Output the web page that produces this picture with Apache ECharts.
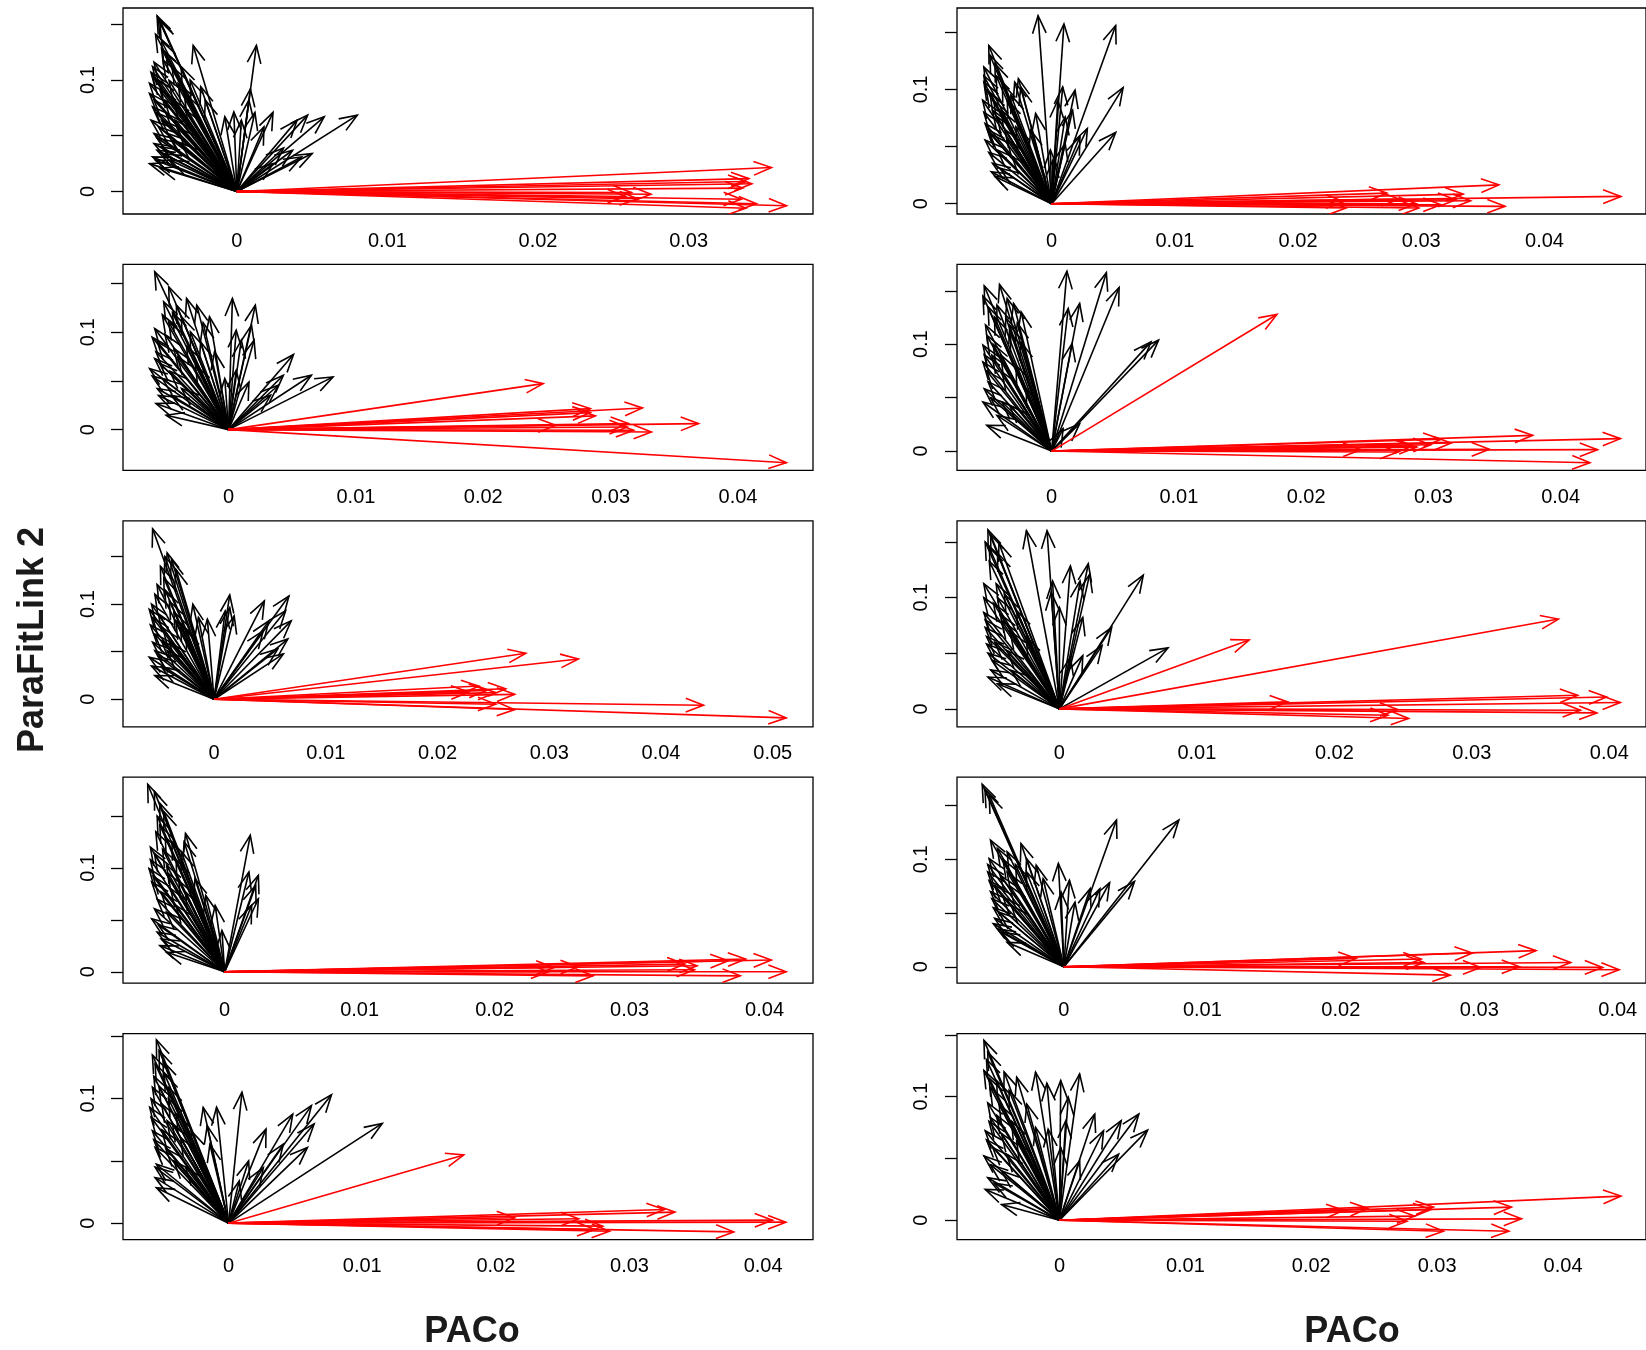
<!DOCTYPE html>
<html>
<head>
<meta charset="utf-8">
<script src="https://cdn.jsdelivr.net/npm/echarts@6/dist/echarts.min.js"></script>
<style>
  html, body { margin: 0; padding: 0; background: #fff; }
  #chart { width: 1646px; height: 1350px; }
</style>
</head>
<body>
<div id="chart"></div>
<script>
// ParaFitLink 2 vs PACo contributions: one arrow per host-parasite link,
// drawn from the origin to (PACo, ParaFitLink 2). Red = flagged links.

// ---------- tick labels ----------
const xTicks3 = [0, 0.01, 0.02, 0.03];
const xTicks4 = [0, 0.01, 0.02, 0.03, 0.04];
const xTicks5 = [0, 0.01, 0.02, 0.03, 0.04, 0.05];
const yTicks = [0, 0.05, 0.1, 0.15];
const yLabels = [0, 0.1];

// ---------- left column ----------
const blackL1 = [
  [-0.0053,0.1577],[-0.0051,0.153],[-0.0050,0.128],[-0.0055,0.116],[-0.0057,0.107],[-0.0058,0.097],
  [-0.0058,0.088],[-0.0056,0.076],[-0.0057,0.064],[-0.0055,0.052],[-0.0055,0.043],[-0.0058,0.025],
  [-0.0056,0.031],[-0.0051,0.021],[-0.0047,0.124],[-0.0043,0.112],[-0.0045,0.0997],[-0.0048,0.082],
  [-0.0047,0.070],[-0.0040,0.058],[-0.0043,0.046],[-0.0037,0.043],[-0.0050,0.040],[-0.0029,0.131],
  [-0.0024,0.094],[-0.0021,0.082],[-0.0034,0.073],[-0.0008,0.067],[-0.0002,0.0714],[0.0003,0.064],
  [0.0013,0.131],[0.0009,0.092],[0.0008,0.082],[0.0012,0.071],[0.0024,0.071],[0.0018,0.058],
  [0.0047,0.0685],[0.0058,0.067],[0.0040,0.064],[0.0080,0.0685],[0.0031,0.039],[0.0037,0.037],
  [0.0050,0.034],[0.0043,0.031],[0.0024,0.025],[-0.0054,0.141],[-0.0050,0.135],[-0.0056,0.103],
  [-0.0051,0.091],[-0.0054,0.071],[-0.0052,0.058],[-0.0049,0.034],[-0.0042,0.082],[-0.0039,0.097],
  [-0.0037,0.112],[-0.0053,0.048],[-0.0056,0.112],[-0.0052,0.100],[-0.0055,0.082],[-0.0050,0.064],
  [-0.0053,0.037],[-0.0046,0.052],[-0.0041,0.064],[-0.0035,0.088],[-0.0031,0.100],[-0.0049,0.118],
  [-0.0054,0.028],[-0.0044,0.028],[-0.0052,0.155]
];
const redL1 = [
  [0.0355,0.0215],[0.0340,0.0115],[0.0342,0.0070],[0.0338,0.0090],[0.0336,0.0030],[0.0262,-0.0010],
  [0.0275,-0.0025],[0.0258,-0.0045],[0.0266,-0.0065],[0.0335,-0.0070],[0.0345,-0.0110],[0.0365,-0.0128],
  [0.0338,-0.0150]
];

const blackL2 = [
  [-0.0058,0.1623],[-0.0047,0.1468],[-0.0051,0.1314],[-0.0033,0.1348],[-0.0025,0.128],[-0.0015,0.116],
  [0.0003,0.1348],[0.0021,0.128],[0.0018,0.1074],[0.0020,0.0919],[0.0006,0.1022],[0.0010,0.0919],
  [0.0051,0.0772],[0.0065,0.0559],[0.0082,0.0542],[0.0043,0.0559],[0.0039,0.0456],[0.0033,0.0353],
  [-0.0058,0.1039],[-0.0056,0.0902],[-0.0062,0.0628],[-0.0058,0.0731],[-0.0056,0.0422],[-0.0057,0.0268],
  [-0.0049,0.0148],[-0.0043,0.0834],[-0.0037,0.116],[-0.0030,0.1005],[-0.0047,0.1108],[-0.0011,0.080],
  [-0.0003,0.0525],[0.0006,0.061],[0.0016,0.049],[-0.0026,0.0662],[-0.0052,0.0525],[-0.0045,0.0353],
  [-0.0037,0.0422],[-0.0022,0.0902],[-0.0041,0.128],[-0.0060,0.095],[-0.0057,0.080],[-0.0054,0.068],
  [-0.0060,0.055],[-0.0050,0.098],[-0.0044,0.120],[-0.0040,0.075],[-0.0033,0.086],[-0.0055,0.035],
  [-0.0052,0.118],[-0.0046,0.060],[-0.0020,0.110]
];
const redL2 = [
  [0.0247,0.0473],[0.0284,0.0216],[0.0325,0.0223],[0.0288,0.0141],[0.0284,0.0175],[0.0369,0.0062],
  [0.0257,0.0045],[0.0313,0.0027],[0.0318,-0.0007],[0.0332,-0.0024],[0.0438,-0.034],[0.0314,0.0062]
];

const blackL3 = [
  [-0.0055,0.1791],[-0.0042,0.1537],[-0.0038,0.1468],[-0.0034,0.1363],[-0.0048,0.1398],[-0.0053,0.1103],
  [-0.0058,0.0946],[-0.0055,0.0859],[-0.0053,0.0685],[-0.0053,0.0511],[-0.0053,0.025],[-0.0047,0.0337],
  [-0.0045,0.1277],[-0.0040,0.1033],[-0.0019,0.0998],[-0.0014,0.0859],[-0.0006,0.0842],[0.0014,0.1096],
  [0.0014,0.0963],[0.0018,0.0877],[0.0010,0.0929],[0.0045,0.1033],[0.0067,0.1085],[0.0064,0.0929],
  [0.0069,0.0824],[0.0066,0.0633],[0.0062,0.0477],[0.0057,0.0529],[0.0049,0.0824],[0.0044,0.072],
  [-0.0042,0.0511],[-0.0034,0.0824],[-0.0051,0.1207],[-0.0025,0.072],[-0.0047,0.0616],[-0.0058,0.0442],
  [-0.0056,0.100],[-0.0057,0.078],[-0.0055,0.060],[-0.0056,0.035],[-0.0050,0.090],[-0.0046,0.075],
  [-0.0040,0.060],[-0.0044,0.115],[-0.0050,0.045],[-0.0036,0.092],[-0.0030,0.080],[-0.0044,0.150]
];
const redL3 = [
  [0.0279,0.0483],[0.0326,0.0424],[0.0237,0.0139],[0.0244,0.0094],[0.0269,0.0052],[0.0252,0.0070],
  [0.0228,0.0077],[0.0261,0.0111],[0.0438,-0.0063],[0.0512,-0.0195],[0.0269,-0.0108],[0.0252,-0.0052]
];

const blackL4 = [
  [-0.0057,0.1806],[-0.0052,0.1735],[-0.0048,0.1623],[-0.0045,0.1542],[-0.0048,0.1413],[-0.0051,0.1348],
  [-0.0029,0.1332],[-0.0030,0.1252],[-0.0039,0.1252],[-0.0052,0.1139],[-0.0056,0.0994],[-0.0054,0.0865],
  [-0.0052,0.0606],[-0.0050,0.0381],[-0.0048,0.0252],[-0.0043,0.0187],[-0.0022,0.0897],[-0.0014,0.0735],
  [-0.0007,0.0639],[-0.0002,0.0397],[0.0019,0.1316],[0.0018,0.0961],[0.0025,0.0929],[0.0023,0.0832],
  [0.0025,0.0703],[0.0020,0.0639],[-0.0043,0.1026],[-0.0047,0.0768],[-0.0036,0.0639],[-0.0032,0.1155],
  [-0.0054,0.051],[-0.0029,0.0768],[-0.0043,0.0574],[-0.0047,0.0316],[-0.0055,0.108],[-0.0053,0.092],
  [-0.0050,0.070],[-0.0049,0.045],[-0.0046,0.118],[-0.0042,0.095],[-0.0040,0.080],[-0.0036,0.108],
  [-0.0050,0.150],[-0.0044,0.130],[-0.0034,0.088],[-0.0055,0.120]
];
const redL4 = [
  [0.0405,0.0113],[0.0416,0.0],[0.0386,0.0123],[0.0373,0.0106],[0.0382,-0.0039],[0.0350,0.0058],
  [0.0341,0.0074],[0.0244,0.0042],[0.0262,0.0048],[0.0273,-0.0039],[0.0240,0.0],[0.0348,0.0019]
];

const blackL5 = [
  [-0.0054,0.1473],[-0.0052,0.1387],[-0.0055,0.128],[-0.0057,0.1091],[-0.0059,0.093],[-0.0057,0.0742],
  [-0.0055,0.0608],[-0.0055,0.0366],[-0.0054,0.0285],[-0.0019,0.093],[-0.0009,0.093],[-0.0016,0.0782],
  [-0.0014,0.0634],[0.0010,0.1051],[0.0028,0.0755],[0.0048,0.0876],[0.0062,0.0944],[0.0077,0.1032],
  [0.0064,0.0796],[0.0059,0.0608],[0.0115,0.0801],[0.0015,0.050],[0.0008,0.0339],[-0.0046,0.0823],
  [-0.0041,0.050],[-0.0036,0.0688],[-0.0028,0.0742],[-0.0048,0.1199],[-0.0045,0.1091],[-0.0050,0.0957],
  [-0.0039,0.0876],[-0.0054,0.0473],[0.0041,0.0634],[0.0026,0.0446],[-0.0032,0.0446],[-0.0057,0.135],
  [-0.0056,0.118],[-0.0058,0.100],[-0.0058,0.085],[-0.0056,0.067],[-0.0055,0.045],[-0.0050,0.075],
  [-0.0047,0.060],[-0.0052,0.110],[-0.0045,0.100],[-0.0042,0.080],[-0.0049,0.130]
];
const redL5 = [
  [0.0176,0.0548],[0.0334,0.0089],[0.0326,0.0110],[0.0407,0.0024],[0.0417,0.0008],[0.0378,-0.0070],
  [0.0285,-0.0065],[0.0280,-0.0024],[0.0262,0.0035],[0.0214,0.0043],[0.0274,-0.0051]
];

// ---------- right column ----------
const blackR1 = [
  [-0.0011,0.1646],[0.0010,0.1573],[0.0052,0.1559],[0.0058,0.1016],[0.0052,0.0624],[-0.0051,0.1385],
  [-0.0046,0.1225],[-0.0055,0.1196],[-0.0027,0.1094],[-0.0025,0.1022],[-0.0030,0.1065],[-0.0055,0.1065],
  [-0.0056,0.0906],[-0.0054,0.0702],[-0.0048,0.0819],[-0.0054,0.0557],[-0.0048,0.0354],[-0.0046,0.0238],
  [-0.0042,0.031],[-0.0013,0.079],[-0.0017,0.0644],[0.0009,0.1022],[0.0019,0.0993],[0.0005,0.0906],
  [0.0017,0.0819],[0.0029,0.0659],[0.0023,0.0586],[0.0011,0.076],[0.0001,0.0383],[-0.0001,0.047],
  [0.0011,0.0528],[-0.0040,0.105],[-0.0050,0.0964],[-0.0036,0.0906],[-0.0044,0.076],[-0.0050,0.0615],
  [-0.0036,0.0557],[-0.0029,0.0673],[-0.0044,0.047],[-0.0032,0.0412],[-0.0055,0.112],[-0.0053,0.100],
  [-0.0055,0.080],[-0.0052,0.065],[-0.0051,0.045],[-0.0047,0.090],[-0.0041,0.082],[-0.0038,0.065],
  [-0.0050,0.130],[-0.0045,0.112],[-0.0033,0.095],[-0.0049,0.028]
];
const redR1 = [
  [0.0363,0.0165],[0.0462,0.0064],[0.0272,0.0093],[0.0282,0.0041],[0.0296,0.0],[0.0328,0.0035],
  [0.0340,0.0026],[0.0334,0.0084],[0.0368,-0.0023],[0.0316,-0.0009],[0.0237,0.0020],[0.0239,-0.0038],
  [0.0298,-0.0038]
];

const blackR2 = [
  [0.0012,0.1684],[0.0043,0.1669],[0.0053,0.1531],[0.0022,0.1381],[0.0013,0.1334],[0.0016,0.1006],
  [0.0084,0.1038],[0.0078,0.1022],[-0.0053,0.1547],[-0.0041,0.1559],[-0.0035,0.1428],[-0.0030,0.1381],
  [-0.0024,0.1303],[-0.0045,0.1256],[-0.0054,0.0991],[-0.0051,0.1084],[-0.0047,0.0897],[-0.0054,0.0834],
  [-0.0053,0.0584],[-0.0054,0.0459],[-0.0051,0.0241],[-0.0043,0.0334],[-0.0039,0.0741],[-0.0028,0.0803],
  [-0.0033,0.1178],[-0.0020,0.0584],[0.0022,0.0256],[0.0009,0.0209],[-0.0039,0.0459],[-0.0024,0.1022],
  [-0.0043,0.1366],[-0.0033,0.0428],[-0.0054,0.145],[-0.0050,0.135],[-0.0052,0.118],[-0.0053,0.090],
  [-0.0051,0.075],[-0.0050,0.065],[-0.0048,0.050],[-0.0046,0.100],[-0.0040,0.090],[-0.0036,0.125],
  [-0.0032,0.110],[-0.0027,0.120]
];
const redR2 = [
  [0.0177,0.1278],[0.0378,0.0147],[0.0447,0.0116],[0.0429,0.0013],[0.0423,-0.0109],[0.0344,0.0016],
  [0.0314,0.0075],[0.0306,0.0110],[0.0298,0.0059],[0.0287,0.0037],[0.0243,0.0013],[0.0272,-0.0009],
  [0.0283,0.0044]
];

const blackR3 = [
  [-0.0052,0.161],[-0.0050,0.1565],[-0.0044,0.1491],[-0.0024,0.1601],[-0.0009,0.1601],[0.0008,0.1283],
  [0.0021,0.1304],[0.0022,0.1208],[0.0015,0.1149],[-0.0005,0.1149],[-0.0006,0.1045],[0.0,0.0911],
  [0.0017,0.0821],[0.0061,0.1202],[0.0038,0.0732],[0.0031,0.0568],[0.0079,0.0548],[0.0017,0.0479],
  [-0.0055,0.1125],[-0.0046,0.1125],[-0.0040,0.103],[-0.0055,0.0866],[-0.0054,0.0732],[-0.0053,0.0583],
  [-0.0052,0.0286],[-0.0045,0.0226],[-0.0031,0.0881],[-0.0042,0.0792],[-0.0049,0.0435],[-0.0038,0.0524],
  [-0.0024,0.0643],[0.0008,0.0464],[-0.0035,0.0345],[-0.0051,0.1327],[-0.0045,0.100],[-0.0054,0.150],
  [-0.0051,0.145],[-0.0055,0.100],[-0.0054,0.080],[-0.0053,0.065],[-0.0052,0.050],[-0.0048,0.095],
  [-0.0043,0.085],[-0.0047,0.060],[-0.0050,0.035],[-0.0036,0.070],[-0.0045,0.140]
];
const redR3 = [
  [0.0138,0.0619],[0.0363,0.0807],[0.0408,0.0057],[0.0398,0.0107],[0.0377,0.0122],[0.0391,-0.0036],
  [0.0379,-0.0012],[0.0166,0.0063],[0.0246,-0.0006],[0.0254,-0.0086],[0.0239,-0.0057]
];

const blackR4 = [
  [-0.0059,0.1698],[-0.0054,0.1598],[-0.0053,0.1178],[-0.0031,0.1146],[-0.0041,0.1069],[-0.0054,0.1006],
  [-0.0055,0.0882],[-0.0052,0.0632],[-0.0048,0.0352],[-0.0041,0.0227],[0.0038,0.1364],[0.0083,0.1364],
  [0.0051,0.0794],[-0.0004,0.0960],[0.0004,0.0804],[0.0033,0.0782],[0.0019,0.0726],[-0.0015,0.0819],
  [-0.0027,0.0882],[-0.0002,0.0695],[0.0008,0.0601],[-0.0041,0.0882],[-0.0047,0.0508],[-0.0050,0.0757],
  [-0.0038,0.057],[-0.0027,0.1006],[-0.0020,0.0944],[0.0026,0.0726],[-0.0045,0.0321],[-0.0048,0.110],
  [-0.0055,0.095],[-0.0054,0.080],[-0.0053,0.070],[-0.0051,0.055],[-0.0050,0.045],[-0.0046,0.085],
  [-0.0044,0.065],[-0.0039,0.075],[-0.0035,0.095],[-0.0051,0.040],[-0.0057,0.165],[-0.0044,0.100]
];
const redR4 = [
  [0.0341,0.0150],[0.0295,0.0128],[0.0366,0.0040],[0.0401,-0.0028],[0.0329,0.0],[0.0301,-0.0006],
  [0.0279,-0.0078],[0.0260,0.0040],[0.0211,0.0078],[0.0258,0.0072],[0.0389,-0.0006]
];

const blackR5 = [
  [-0.0060,0.1455],[-0.0057,0.136],[-0.0060,0.1211],[-0.0055,0.1076],[-0.0034,0.1157],[-0.0019,0.1198],
  [-0.0010,0.1108],[0.0001,0.113],[0.0016,0.1184],[0.0007,0.0995],[-0.0009,0.0737],[0.0005,0.0805],
  [0.0028,0.0859],[0.0035,0.0724],[0.0063,0.0859],[0.0070,0.0729],[0.0049,0.0805],[0.0047,0.0534],
  [-0.0055,0.0832],[-0.0059,0.0724],[-0.0060,0.052],[-0.0057,0.0344],[-0.0059,0.0249],[-0.0046,0.0127],
  [-0.0053,0.0588],[-0.0042,0.0534],[-0.0034,0.0642],[-0.0026,0.094],[-0.0048,0.094],[-0.0019,0.0751],
  [-0.0046,0.0398],[0.0016,0.048],[0.0001,0.0588],[-0.0050,0.113],[-0.0058,0.130],[-0.0056,0.115],
  [-0.0057,0.095],[-0.0056,0.080],[-0.0058,0.065],[-0.0055,0.045],[-0.0050,0.085],[-0.0046,0.070],
  [-0.0040,0.105],[-0.0044,0.120],[-0.0052,0.030],[-0.0038,0.080]
];
const redR5 = [
  [0.0446,0.0195],[0.0359,0.0106],[0.0297,0.0106],[0.0295,0.0087],[0.0367,0.0011],[0.0357,-0.0089],
  [0.0305,-0.0089],[0.0245,0.0095],[0.0226,0.0079],[0.0282,0.0033],[0.0276,-0.0008]
];

// ---------- layout ----------
const FONT = '"Liberation Sans", Arial, Helvetica, sans-serif';
const COL_LEFT = [123, 957];
const PANEL_W = 690;
const ROW_TOP = [8, 264.4, 520.8, 777.2, 1033.6];
const PANEL_H = 206;
const HEAD_LEN = 19;
const HEAD_ANGLE = 21 * Math.PI / 180;
const LINE_W = 1.6;

// panel = column, row, axis limits, x tick labels, data
const panels = [
  { col: 0, row: 0, x: [-0.00756, 0.03826], y: [-0.0202, 0.1646], ticks: xTicks3, black: blackL1, red: redL1 },
  { col: 0, row: 1, x: [-0.00829, 0.04589], y: [-0.0419, 0.1698], ticks: xTicks4, black: blackL2, red: redL2 },
  { col: 0, row: 2, x: [-0.00815, 0.0536],  y: [-0.0289, 0.1875], ticks: xTicks5, black: blackL3, red: redL3 },
  { col: 0, row: 3, x: [-0.00753, 0.04359], y: [-0.0110, 0.1874], ticks: xTicks4, black: blackL4, red: redL4 },
  { col: 0, row: 4, x: [-0.0079, 0.04373],  y: [-0.0132, 0.1522], ticks: xTicks4, black: blackL5, red: redL5 },
  { col: 1, row: 0, x: [-0.00768, 0.04824], y: [-0.0090, 0.1713], ticks: xTicks4, black: blackR1, red: redR1 },
  { col: 1, row: 1, x: [-0.00744, 0.04671], y: [-0.0181, 0.1747], ticks: xTicks4, black: blackR2, red: redR2 },
  { col: 1, row: 2, x: [-0.00745, 0.04267], y: [-0.0161, 0.1690], ticks: xTicks4, black: blackR3, red: redR3 },
  { col: 1, row: 3, x: [-0.00772, 0.04204], y: [-0.0153, 0.1763], ticks: xTicks4, black: blackR4, red: redR4 },
  { col: 1, row: 4, x: [-0.00814, 0.04659], y: [-0.0157, 0.1510], ticks: xTicks4, black: blackR5, red: redR5 }
];

// open-headed arrow from the origin to the data point
function arrowRenderer(color) {
  return function (params, api) {
    const o = api.coord([0, 0]);
    const t = api.coord([api.value(0), api.value(1)]);
    const ang = Math.atan2(t[1] - o[1], t[0] - o[0]);
    const p1 = [t[0] - HEAD_LEN * Math.cos(ang - HEAD_ANGLE), t[1] - HEAD_LEN * Math.sin(ang - HEAD_ANGLE)];
    const p2 = [t[0] - HEAD_LEN * Math.cos(ang + HEAD_ANGLE), t[1] - HEAD_LEN * Math.sin(ang + HEAD_ANGLE)];
    const style = { stroke: color, fill: null, lineWidth: LINE_W, lineJoin: 'miter' };
    return {
      type: 'group',
      children: [
        { type: 'line', shape: { x1: o[0], y1: o[1], x2: t[0], y2: t[1] }, style: style },
        { type: 'polyline', shape: { points: [p1, t, p2] }, style: style }
      ]
    };
  };
}

const grids = [], xAxes = [], yAxes = [], series = [];
panels.forEach((p, i) => {
  grids.push({
    left: COL_LEFT[p.col], top: ROW_TOP[p.row], width: PANEL_W, height: PANEL_H,
    show: true, borderColor: '#000', borderWidth: 1.3, backgroundColor: 'transparent'
  });
  xAxes.push({
    type: 'value', gridIndex: i, min: p.x[0], max: p.x[1], position: 'bottom',
    axisLine: { show: false, onZero: false }, axisTick: { show: false }, splitLine: { show: false },
    axisLabel: {
      customValues: p.ticks, margin: 17, color: '#000', fontSize: 20, fontFamily: FONT,
      formatter: v => String(+v.toFixed(3))
    }
  });
  yAxes.push({
    type: 'value', gridIndex: i, min: p.y[0], max: p.y[1], position: 'left',
    axisLine: { show: false, onZero: false }, splitLine: { show: false },
    axisTick: { show: true, customValues: yTicks, length: 12, lineStyle: { color: '#000', width: 1.3 } },
    axisLabel: {
      customValues: yLabels, rotate: 90, margin: p.col === 0 ? 25 : 26,
      color: '#000', fontSize: 20, fontFamily: FONT,
      formatter: v => String(+v.toFixed(3))
    }
  });
  series.push({
    type: 'custom', xAxisIndex: i, yAxisIndex: i, data: p.black,
    renderItem: arrowRenderer('#000'), clip: true, silent: true
  });
  series.push({
    type: 'custom', xAxisIndex: i, yAxisIndex: i, data: p.red,
    renderItem: arrowRenderer('#ff0000'), clip: true, silent: true
  });
});

const chart = echarts.init(document.getElementById('chart'), null, { renderer: 'canvas' });
chart.setOption({
  animation: false,
  backgroundColor: '#fff',
  grid: grids,
  xAxis: xAxes,
  yAxis: yAxes,
  series: series,
  graphic: [
    {
      type: 'text', x: 33, y: 640, rotation: Math.PI / 2,
      style: { text: 'ParaFitLink 2', fill: '#1a1a1a', font: 'bold 36px ' + FONT, align: 'center', verticalAlign: 'middle' }
    },
    {
      type: 'text', x: 472, y: 1332,
      style: { text: 'PACo', fill: '#1a1a1a', font: 'bold 36px ' + FONT, align: 'center', verticalAlign: 'middle' }
    },
    {
      type: 'text', x: 1352, y: 1332,
      style: { text: 'PACo', fill: '#1a1a1a', font: 'bold 36px ' + FONT, align: 'center', verticalAlign: 'middle' }
    }
  ]
});
</script>
</body>
</html>
